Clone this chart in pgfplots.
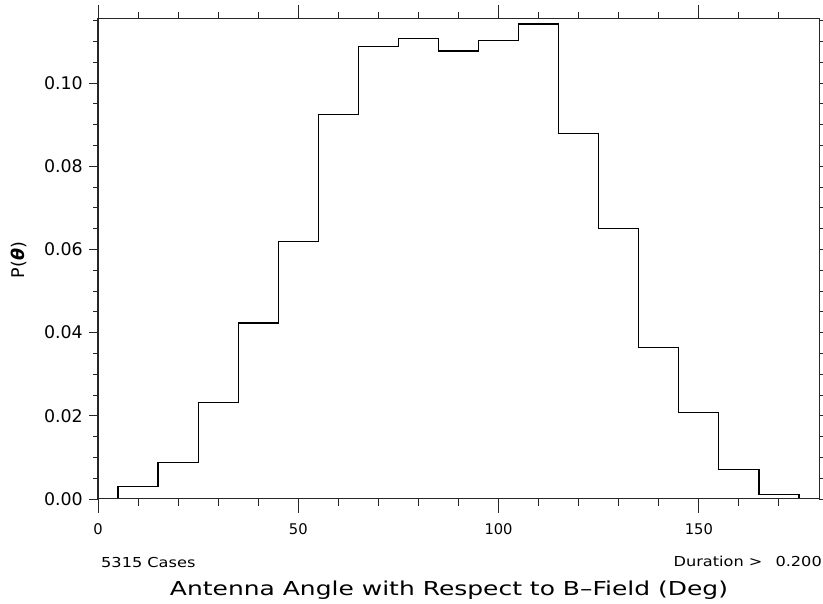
\documentclass[border=0pt]{standalone}
\usepackage{fontspec}
\setmainfont{DejaVu Sans}
\newfontfamily\titlefont[FakeStretch=1.3]{DejaVu Sans}
\newfontfamily\notefont[FakeStretch=1.18]{DejaVu Sans}
\usepackage{pgfplots}
\pgfplotsset{compat=1.18}
\begin{document}
\begin{tikzpicture}[x=1pt,y=1pt]
\pgfplotsset{
  common/.style={
    at={(98pt,105pt)}, anchor=south west,
    scale only axis, width=721pt, height=480pt,
    xmin=0, xmax=180, ymin=0, ymax=0.1154,
    tick align=outside,
    axis line style={line width=1pt, black!85},
    every tick/.style={black!85, line width=0.9pt},
    /pgf/number format/assume math mode=true,
    scaled y ticks=false,
  }
}
% axis with histogram and x ticks
\begin{axis}[common,
  xtick={0,50,100,150},
  minor xtick={10,20,30,40,60,70,80,90,110,120,130,140,160,170},
  ytick=\empty,
  major tick length=14pt, minor tick length=7pt,
  xticklabel style={font=\fontsize{14.7}{17}\selectfont, anchor=center, inner sep=0pt, yshift=-16.5pt},
]
\addplot[const plot, black, line width=1.2pt] coordinates {
(0,0.0002) (5,0.0030) (15,0.0088) (25,0.0232) (35,0.0423) (45,0.0620)
(55,0.0925) (65,0.1087) (75,0.1107) (85,0.1077) (95,0.1102) (105,0.1142)
(115,0.0879) (125,0.0651) (135,0.0365) (145,0.0207) (155,0.0070)
(165,0.0011) (175,0.0002) (180,0.0002)
};
\end{axis}
% axis with y ticks
\begin{axis}[common,
  xtick=\empty,
  ytick={0,0.02,0.04,0.06,0.08,0.10},
  minor ytick={0.005,0.01,0.015,0.025,0.03,0.035,0.045,0.05,0.055,0.065,0.07,0.075,0.085,0.09,0.095,0.105,0.11,0.115},
  major tick length=9pt, minor tick length=4.5pt,
  yticklabel style={font=\fontsize{17.4}{20}\selectfont, anchor=east, inner sep=0pt, xshift=-6pt,
    /pgf/number format/fixed, /pgf/number format/fixed zerofill, /pgf/number format/precision=2},
]
\end{axis}
\node[anchor=west, inner sep=0pt, font=\notefont\fontsize{13.7}{16}\selectfont] at (101,41) {5315 Cases};
\node[anchor=east, inner sep=0pt, font=\notefont\fontsize{13.7}{16}\selectfont] at (822,43) {Duration >\hspace{13pt}0.200};
\node[anchor=base, inner sep=0pt, font=\titlefont\fontsize{19.2}{23}\selectfont] at (449,8) {Antenna Angle with Respect to B–Field (Deg)};
\node[rotate=90, inner sep=0pt, font=\fontsize{17.5}{20}\selectfont] at (19,344) {P({\bfseries\itshape θ})};
\pgfresetboundingbox
\path[use as bounding box] (0,0) rectangle (823,604);
\end{tikzpicture}
\end{document}
